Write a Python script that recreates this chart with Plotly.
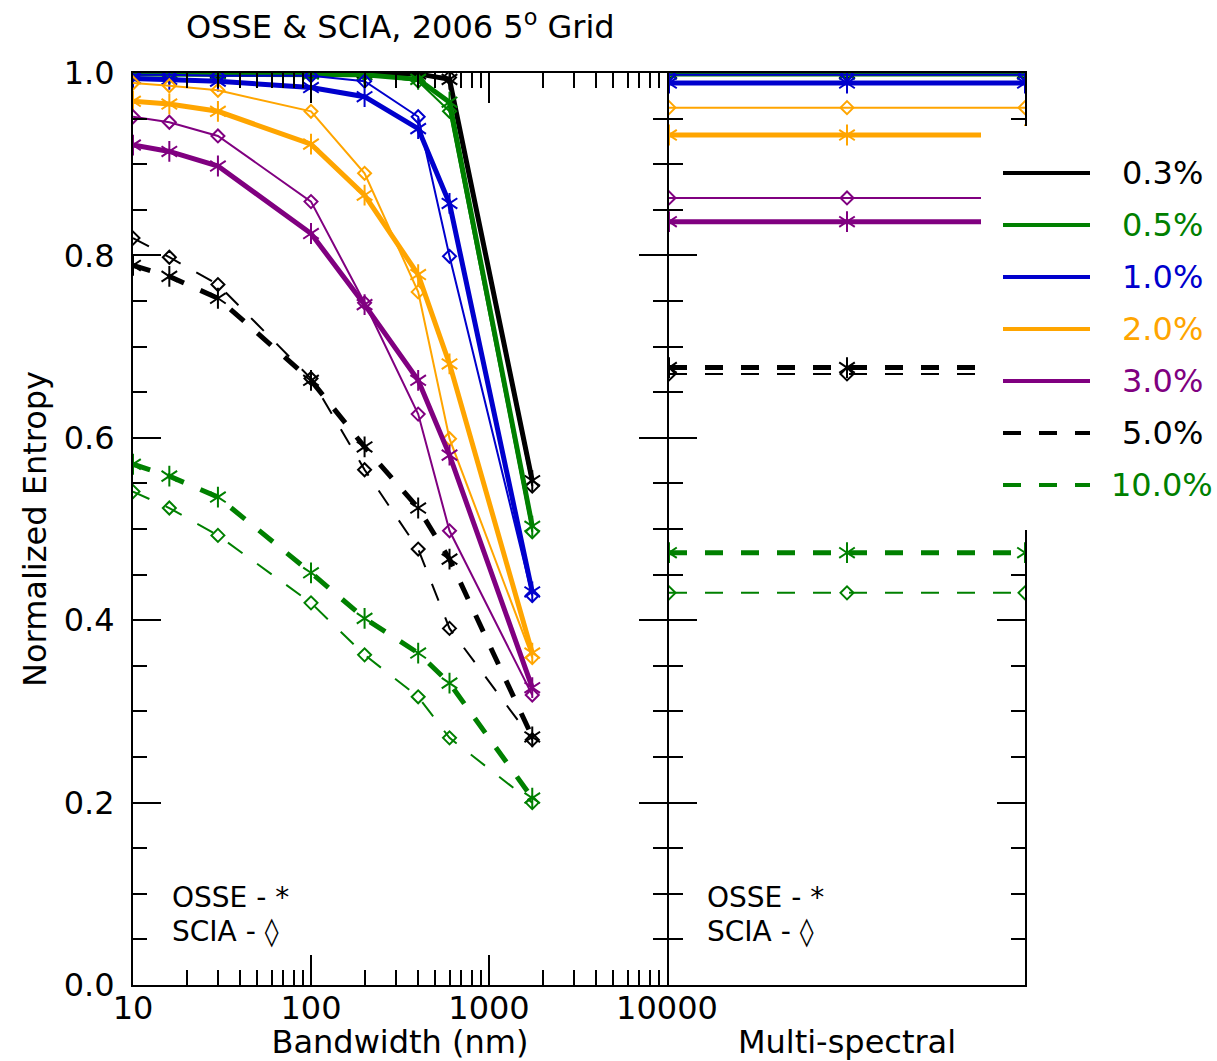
import plotly.graph_objects as go

# ---- data -------------------------------------------------------------
levels = ["0.3%", "0.5%", "1.0%", "2.0%", "3.0%", "5.0%", "10.0%"]
level_colors = ["black", "#008000", "#0000CD", "#FFA500", "#800080", "black", "#008000"]
level_dashes = ["solid", "solid", "solid", "solid", "solid", "18px,18px", "18px,18px"]

bandwidth_nm = [10, 16, 30, 100, 200, 400, 600, 1750]

# OSSE retrievals (asterisks, thick lines), one row per noise level
osse_bandwidth = [
    [1.000, 1.000, 1.000, 1.000, 1.000, 0.999, 0.993, 0.553],
    [0.999, 0.999, 0.999, 0.999, 0.998, 0.993, 0.968, 0.503],
    [0.994, 0.993, 0.991, 0.984, 0.974, 0.939, 0.857, 0.431],
    [0.969, 0.966, 0.958, 0.922, 0.866, 0.779, 0.681, 0.364],
    [0.921, 0.914, 0.898, 0.824, 0.746, 0.663, 0.581, 0.326],
    [0.789, 0.777, 0.753, 0.663, 0.590, 0.523, 0.467, 0.272],
    [0.571, 0.558, 0.535, 0.452, 0.402, 0.364, 0.331, 0.205],
]

# SCIA retrievals (diamonds, thin lines)
scia_bandwidth = [
    [1.000, 1.000, 1.000, 1.000, 1.000, 0.999, 0.995, 0.547],
    [0.999, 0.999, 0.999, 0.999, 0.999, 0.991, 0.958, 0.497],
    [0.998, 0.998, 0.997, 0.997, 0.991, 0.952, 0.799, 0.427],
    [0.989, 0.986, 0.981, 0.958, 0.890, 0.760, 0.599, 0.359],
    [0.952, 0.946, 0.931, 0.859, 0.748, 0.626, 0.498, 0.318],
    [0.819, 0.798, 0.768, 0.665, 0.565, 0.478, 0.391, 0.269],
    [0.541, 0.523, 0.493, 0.419, 0.362, 0.316, 0.271, 0.200],
]

# multi-spectral case
multi_pos = [0, 1, 2]
osse_multi = [
    [1.000, 1.000, 1.000],
    [0.999, 0.999, 0.999],
    [0.989, 0.989, 0.989],
    [0.932, 0.932, 0.932],
    [0.837, 0.837, 0.837],
    [0.677, 0.677, 0.677],
    [0.474, 0.474, 0.474],
]
scia_multi = [
    [1.000, 1.000, 1.000],
    [0.999, 0.999, 0.999],
    [0.998, 0.998, 0.998],
    [0.962, 0.962, 0.962],
    [0.863, 0.863, 0.863],
    [0.670, 0.670, 0.670],
    [0.430, 0.430, 0.430],
]

x_tick_vals = [10, 100, 1000, 10000]
x_tick_text = ["10", "100", "1000", "10000"]

# ---- figure -----------------------------------------------------------
W, H = 1217, 1061
FONT = "DejaVu Sans"
px = lambda v: v / W
py = lambda v: 1 - v / H

fig = go.Figure()


def add_series(x, y, color, dash, axes, osse):
    xa, ya = axes
    if osse:
        # six-armed asterisk built from an up- and a down-pointing "y"
        fig.add_trace(go.Scatter(
            x=x, y=y, mode="lines+markers", xaxis=xa, yaxis=ya,
            line=dict(color=color, width=5, dash=dash),
            marker=dict(symbol="y-up-open", size=13, color=color,
                        line=dict(color=color, width=2)),
            showlegend=False, hoverinfo="skip"))
        fig.add_trace(go.Scatter(
            x=x, y=y, mode="markers", xaxis=xa, yaxis=ya,
            marker=dict(symbol="y-down-open", size=13, color=color,
                        line=dict(color=color, width=2)),
            showlegend=False, hoverinfo="skip"))
    else:
        fig.add_trace(go.Scatter(
            x=x, y=y, mode="lines+markers", xaxis=xa, yaxis=ya,
            line=dict(color=color, width=2, dash=dash),
            marker=dict(symbol="diamond-open", size=10, color=color,
                        line=dict(color=color, width=2)),
            showlegend=False, hoverinfo="skip"))


for i in range(len(levels)):
    add_series(bandwidth_nm, scia_bandwidth[i], level_colors[i], level_dashes[i], ("x", "y"), False)
    add_series(bandwidth_nm, osse_bandwidth[i], level_colors[i], level_dashes[i], ("x", "y"), True)
    add_series(multi_pos, scia_multi[i], level_colors[i], level_dashes[i], ("x2", "y2"), False)
    add_series(multi_pos, osse_multi[i], level_colors[i], level_dashes[i], ("x2", "y2"), True)

# panels share the spine at x = 667/668
left_dom = [px(133), px(667)]
right_dom = [px(669), px(1025)]
y_dom = [py(985), py(73)]

axis_common = dict(showline=True, linecolor="black", linewidth=2,
                   showgrid=False, zeroline=False, automargin=False,
                   tickcolor="black", tickwidth=2)

fig.update_layout(
    template="none",
    width=W, height=H,
    margin=dict(l=0, r=0, t=0, b=0, pad=0, autoexpand=False),
    paper_bgcolor="white", plot_bgcolor="white",
    font=dict(family=FONT, size=32, color="black"),
    xaxis=dict(**axis_common, type="log", range=[1, 4], domain=left_dom, anchor="y",
               mirror="ticks", ticks="inside", ticklen=30,
               tickvals=x_tick_vals, ticktext=x_tick_text,
               tickfont=dict(size=32), ticklabelstandoff=-6,
               minor=dict(ticks="inside", ticklen=15, tickwidth=2, tickcolor="black",
                          dtick="D1", showgrid=False),
               title=dict(text="Bandwidth (nm)", font=dict(size=32), standoff=17)),
    yaxis=dict(**axis_common, range=[0, 1], domain=y_dom, anchor="x",
               mirror="ticks", ticks="inside", ticklen=28, dtick=0.2, tickformat=".1f",
               tickfont=dict(size=32), ticklabelstandoff=10,
               minor=dict(ticks="inside", ticklen=14, tickwidth=2, tickcolor="black",
                          dtick=0.05, showgrid=False),
               title=dict(text="Normalized Entropy", font=dict(size=32), standoff=8)),
    xaxis2=dict(**axis_common, range=[0, 2], domain=right_dom, anchor="y2",
                mirror=True, ticks="", showticklabels=False,
                title=dict(text="Multi-spectral", font=dict(size=32), standoff=52)),
    yaxis2=dict(**axis_common, range=[0, 1], domain=y_dom, anchor="x2",
                mirror="ticks", ticks="inside", ticklen=28, dtick=0.2,
                showticklabels=False,
                minor=dict(ticks="inside", ticklen=14, tickwidth=2, tickcolor="black",
                           dtick=0.05, showgrid=False)),
)

# title
fig.add_annotation(xref="paper", yref="paper", x=px(400), y=py(25),
                   text="OSSE & SCIA, 2006 5<sup>o</sup> Grid", showarrow=False,
                   xanchor="center", yanchor="middle", font=dict(size=32))

# marker key in both panels
for x0 in (170, 705):
    fig.add_annotation(xref="paper", yref="paper", x=px(x0), y=py(897),
                       text="OSSE - *", showarrow=False, xanchor="left",
                       yanchor="middle", font=dict(size=28))
    fig.add_annotation(xref="paper", yref="paper", x=px(x0), y=py(931),
                       text="SCIA - \u25ca", showarrow=False, xanchor="left",
                       yanchor="middle", font=dict(size=28))

# legend panel with white background
fig.add_shape(type="rect", xref="paper", yref="paper", layer="above",
              x0=px(981), x1=1.0, y0=py(530), y1=py(126),
              fillcolor="white", line=dict(width=0))
for i, lab in enumerate(levels):
    yy = py(173 + 52 * i)
    fig.add_shape(type="line", xref="paper", yref="paper", layer="above",
                  x0=px(1003), x1=px(1090), y0=yy, y1=yy,
                  line=dict(color=level_colors[i], width=4, dash=level_dashes[i]))
    fig.add_annotation(xref="paper", yref="paper", x=px(1162), y=yy,
                       text=lab, showarrow=False, xanchor="center", yanchor="middle",
                       font=dict(size=32, color=level_colors[i]))

fig.write_html("out.html")
